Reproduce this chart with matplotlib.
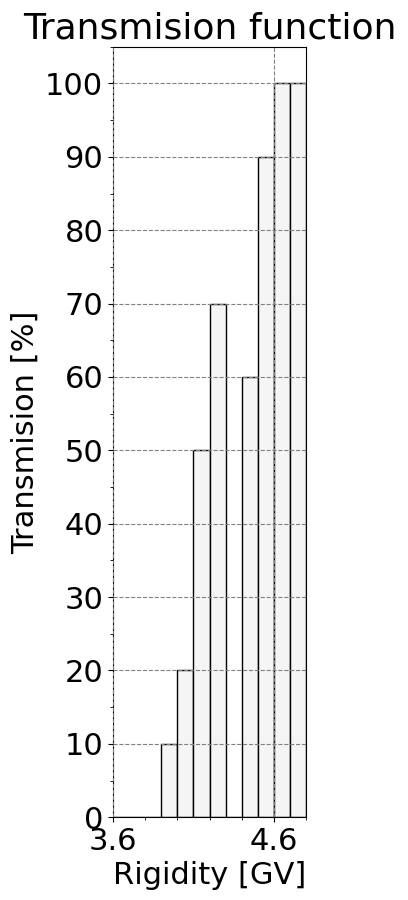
import matplotlib

matplotlib.use("Agg")
import matplotlib.pyplot as plt
from matplotlib.ticker import MultipleLocator

# rigidity bin left edges [GV] and transmission per bin [%]
rigidity = [3.6, 3.7, 3.8, 3.9, 4.0, 4.1, 4.2, 4.3, 4.4, 4.5, 4.6, 4.7]
transmission = [0, 0, 0, 10, 20, 50, 70, 0, 60, 90, 100, 100]
bin_width = 0.1


def main() -> None:
    fig = plt.figure(figsize=(4.08, 9.0), dpi=100)
    ax = fig.add_axes([0.277, 0.092, 0.473, 0.856])

    ax.bar(rigidity, transmission, width=bin_width, align="edge",
           color="#f5f5f5", edgecolor="black", lw=1.0, zorder=1)

    ax.set_xlim(3.6, 4.8)
    ax.set_ylim(0, 105)
    ax.xaxis.set_major_locator(MultipleLocator(1.0))
    ax.xaxis.set_minor_locator(MultipleLocator(0.2))
    ax.yaxis.set_major_locator(MultipleLocator(10))
    ax.yaxis.set_minor_locator(MultipleLocator(5))
    ax.set_xticks([3.6, 4.6])
    ax.set_xticklabels(["3.6", "4.6"])
    ax.tick_params(labelsize=22)
    ax.grid(True, which="major", color="gray", ls="--", lw=0.8, zorder=2)
    ax.set_axisbelow(False)

    ax.set_xlabel("Rigidity [GV]", fontsize=22)
    ax.set_ylabel("Transmision [%]", fontsize=22)
    ax.set_title("Transmision function", fontsize=26)

    fig.savefig("out.png")


if __name__ == "__main__":
    main()
